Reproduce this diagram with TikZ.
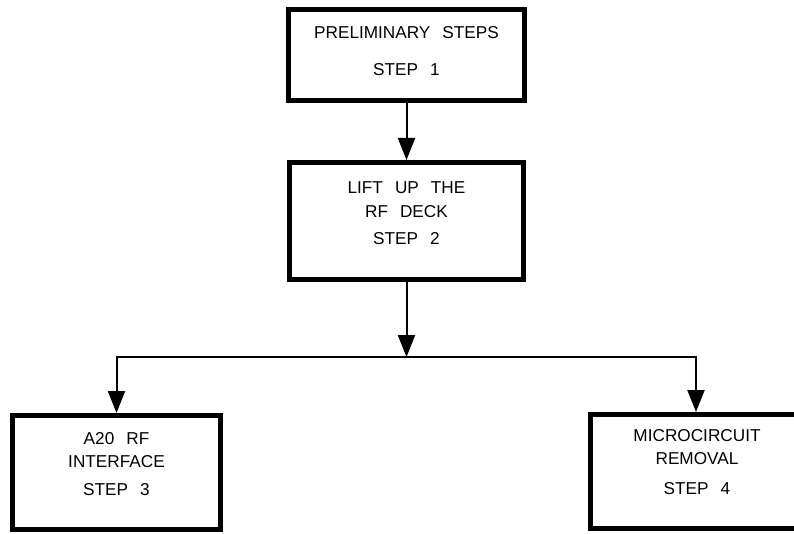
\documentclass[tikz,border=0pt]{standalone}
\usepackage{fontspec}
\setmainfont{Liberation Sans}
\usetikzlibrary{arrows.meta}
\begin{document}
\begin{tikzpicture}[x=1pt,y=-1pt,
  stepbox/.style={draw=black,line width=5pt,rectangle,inner sep=0pt},
  steptext/.style={align=center,inner sep=0pt,font=\fontsize{17.2}{23.5}\selectfont},
  link/.style={line width=2pt,-{Triangle[length=22pt,width=17pt]}},
  bare/.style={line width=2pt}]
\useasboundingbox (0,0) rectangle (794,534);
\clip (0,0) rectangle (794,534);
\fill[white] (0,0) rectangle (794,534);
% boxes
\node[stepbox,minimum width=236pt,minimum height=91pt] (b1) at (406.5,55) {};
\node[stepbox,minimum width=234pt,minimum height=117pt] (b2) at (406.5,221) {};
\node[stepbox,minimum width=208pt,minimum height=114pt] (b3) at (116.5,472.5) {};
\node[stepbox,minimum width=240pt,minimum height=114pt] (b4) at (710.5,471.5) {};
% texts
\node[steptext] (t1) at (406.5,51) {PRELIMINARY\hspace{0.7em}STEPS\\[14pt]STEP\hspace{0.7em}1};
\node[steptext] (t2) at (406.5,213) {LIFT\hspace{0.7em}UP\hspace{0.7em}THE\\RF\hspace{0.7em}DECK\\[3.5pt]STEP\hspace{0.7em}2};
\node[steptext] (t3) at (116.5,464) {A20\hspace{0.7em}RF\\INTERFACE\\[4pt]STEP\hspace{0.7em}3};
\node[steptext] (t4) at (697,462) {MICROCIRCUIT\\REMOVAL\\[6pt]STEP\hspace{0.7em}4};
% connectors
\coordinate (j) at (406.5,357);
\coordinate (jl) at (b3.north |- j);
\coordinate (jr) at (696,357);
\draw[link] (b1) -- (b2);
\draw[link] (b2) -- (j);
\draw[bare] ([xshift=-1pt]jl) -- ([xshift=1pt]jr);
\draw[link] (jl) -- (b3.north);
\draw[link] (jr) -- (jr |- b4.north);
\end{tikzpicture}
\end{document}
